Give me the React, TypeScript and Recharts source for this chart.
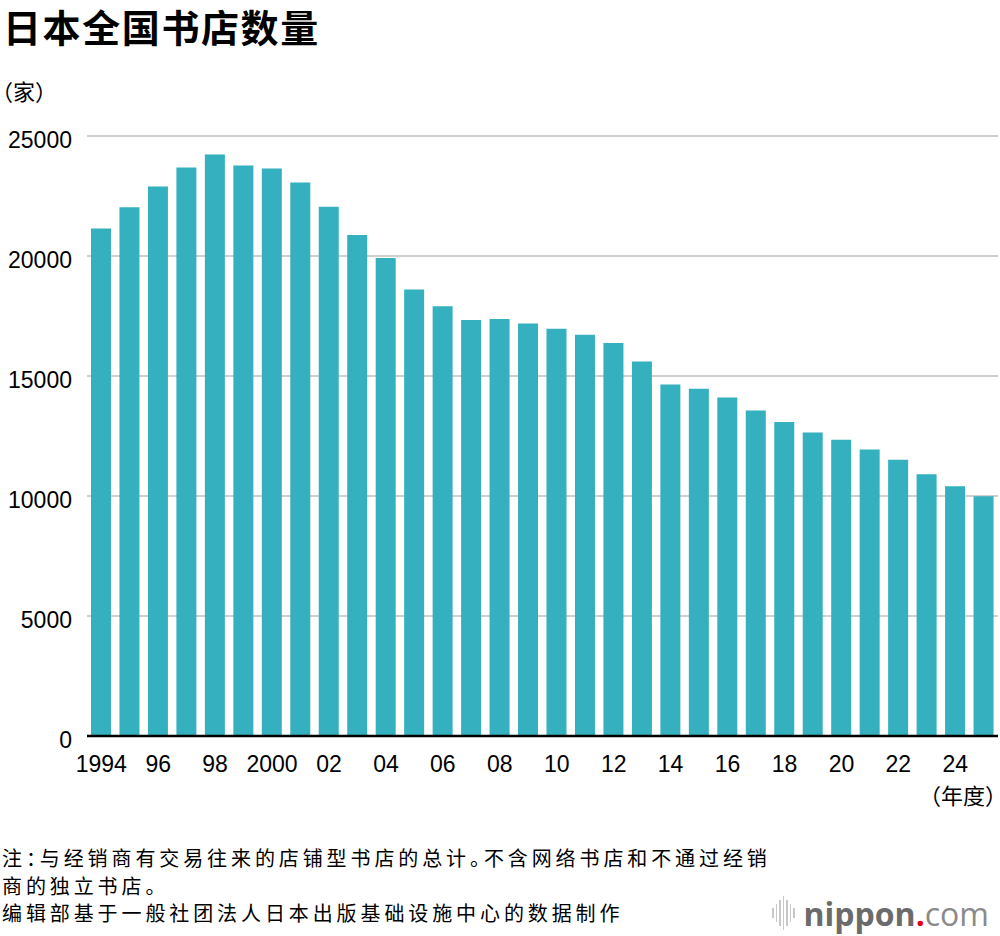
import React from 'react';
import { BarChart, Bar, XAxis, YAxis, CartesianGrid } from 'recharts';

const years = [
  1994, 1995, 1996, 1997, 1998, 1999, 2000, 2001, 2002, 2003, 2004, 2005, 2006, 2007, 2008, 2009,
  2010, 2011, 2012, 2013, 2014, 2015, 2016, 2017, 2018, 2019, 2020, 2021, 2022, 2023, 2024, 2025,
];
const storeCounts = [
  21150, 22030, 22900, 23690, 24230, 23770, 23650, 23060, 22050, 20880, 19920, 18600, 17910, 17330,
  17380, 17190, 16970, 16720, 16370, 15600, 14650, 14470, 14100, 13560, 13080, 12650, 12340, 11940,
  11510, 10910, 10410, 9990,
];
const yTicks = [0, 5000, 10000, 15000, 20000, 25000];

const title = '日本全国书店数量';
const unitLabel = '（家）';
const xUnitLabel = '（年度）';
const noteLines = [
  '注：与经销商有交易往来的店铺型书店的总计。不含网络书店和不通过经销',
  '商的独立书店。',
  '编辑部基于一般社团法人日本出版基础设施中心的数据制作',
];

const data = years.map((y, i) => ({ year: String(y), count: storeCounts[i] }));

const formatYear = (v: string) => {
  const y = Number(v);
  if (y % 2 !== 0) return '';
  if (y === 1994 || y === 2000) return String(y);
  return String(y).slice(2);
};

const FONT = '"Liberation Sans", "Noto Sans CJK SC", sans-serif';
const CJK = '"Noto Sans CJK SC", "Liberation Sans", sans-serif';

const Logo = () => {
  const bars = [10, 18, 26, 34, 26, 18, 10];
  return (
    <div style={{ position: 'absolute', left: 772, top: 893, display: 'flex', alignItems: 'center', height: 40 }}>
      <div style={{ display: 'flex', alignItems: 'center', gap: 2, marginRight: 9 }}>
        {bars.map((h, i) => (
          <div key={i} style={{ width: 1.5, height: h, background: '#c8c8c8' }} />
        ))}
      </div>
      <span style={{ fontFamily: '"Open Sans", sans-serif', fontSize: 32, fontWeight: 700, color: '#6b6b6b' }}>
        nippon
      </span>
      <span style={{ fontFamily: '"Open Sans", sans-serif', fontSize: 32, fontWeight: 700, color: '#e60012' }}>.</span>
      <span style={{ fontFamily: '"Open Sans", sans-serif', fontSize: 32, fontWeight: 400, color: '#8a8a8a' }}>com</span>
    </div>
  );
};

const App: React.FC = () => {
  return (
    <div style={{ position: 'absolute', left: 0, top: 0, width: 1000, height: 936, background: '#fff', fontFamily: FONT }}>
      <BarChart
        width={1000}
        height={800}
        data={data}
        margin={{ top: 136, right: 2, left: 0, bottom: 14 }}
        barSize={20}
      >
        <CartesianGrid vertical={false} stroke="#cfcfcf" strokeWidth={2} />
        <XAxis
          dataKey="year"
          interval={0}
          height={50}
          tickFormatter={formatYear}
          tickSize={0}
          tickMargin={20}
          axisLine={{ stroke: '#000', strokeWidth: 2.5 }}
          tick={{ fill: '#000', fontSize: 23, fontFamily: FONT }}
        />
        <YAxis
          width={87}
          domain={[0, 25000]}
          ticks={yTicks}
          tickSize={0}
          tickMargin={15}
          axisLine={false}
          tick={{ fill: '#000', fontSize: 23, fontFamily: FONT, dy: 4 }}
        />
        <Bar dataKey="count" fill="#34b0bf" isAnimationActive={false} />
      </BarChart>

      <div style={{ position: 'absolute', left: 3, top: 4, fontFamily: CJK, fontSize: 38, fontWeight: 700, lineHeight: '44px', letterSpacing: 1.6, color: '#000', whiteSpace: 'nowrap' }}>
        {title}
      </div>
      <div style={{ position: 'absolute', left: 2, top: 75, fontFamily: CJK, fontSize: 22, lineHeight: '30px', color: '#000', fontFeatureSettings: '"halt"', whiteSpace: 'nowrap' }}>
        {unitLabel}
      </div>
      <div style={{ position: 'absolute', right: 4, top: 779, fontFamily: CJK, fontSize: 22, lineHeight: '30px', color: '#000', fontFeatureSettings: '"halt"', whiteSpace: 'nowrap' }}>
        {xUnitLabel}
      </div>
      {noteLines.map((l, i) => (
        <div
          key={i}
          style={{ position: 'absolute', left: 2, top: 845 + i * 27.5, fontFamily: CJK, fontSize: 20, lineHeight: '26px', letterSpacing: 3.9, color: '#000', fontFeatureSettings: '"halt"', whiteSpace: 'nowrap' }}
        >
          {l}
        </div>
      ))}
      <Logo />
    </div>
  );
};

export default App;
